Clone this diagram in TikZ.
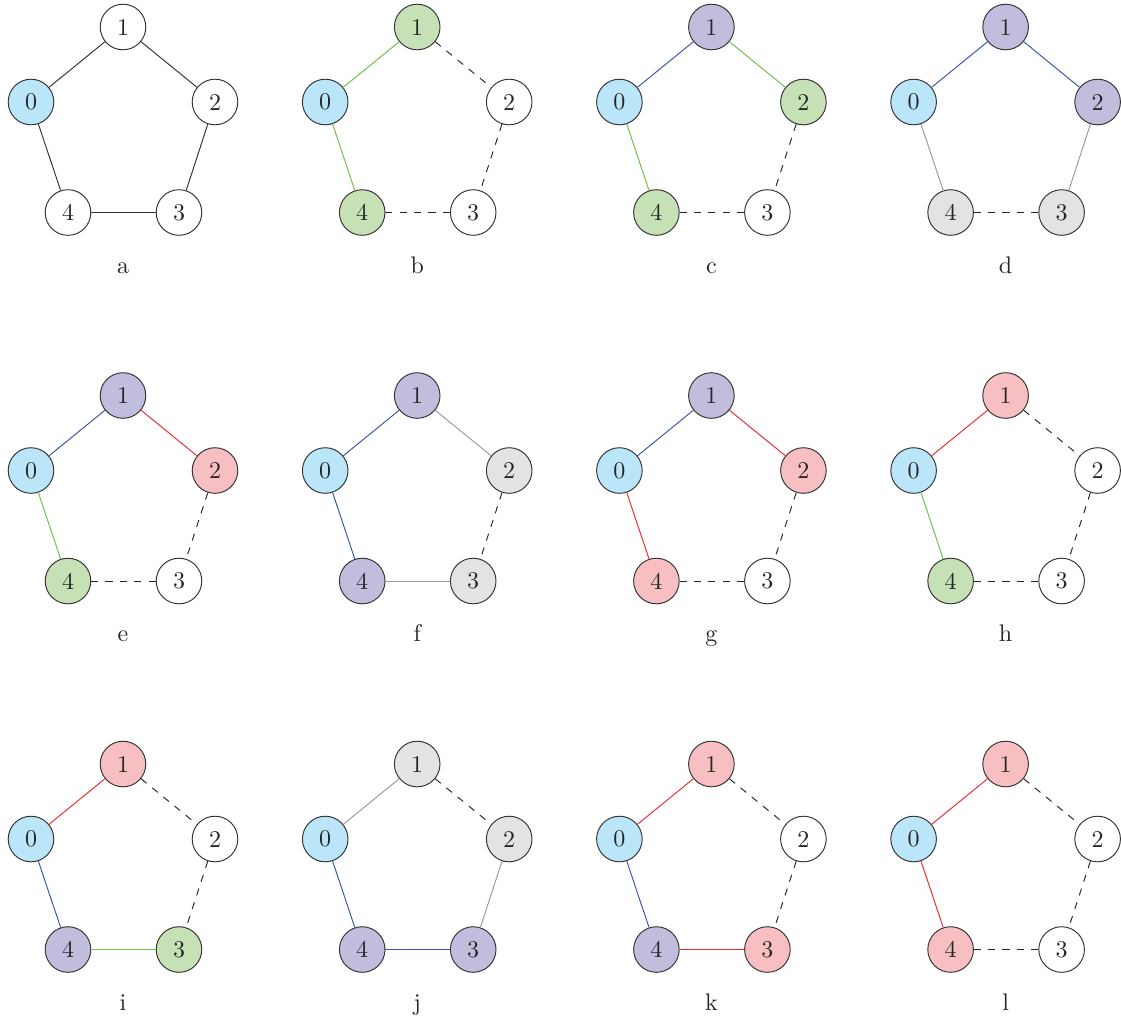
\documentclass[tikz,border=0pt]{standalone}
\definecolor{fblue}{HTML}{BBE5F8}
\definecolor{fpurple}{HTML}{C1BDDD}
\definecolor{fgreen}{HTML}{C6E1B6}
\definecolor{fred}{HTML}{F8BFC3}
\definecolor{fgray}{HTML}{E2E3E4}
\definecolor{eblue}{HTML}{3A55A8}
\definecolor{egreen}{HTML}{6CBF48}
\definecolor{ered}{HTML}{EE2A2E}
\definecolor{egray}{HTML}{9A9A9A}
\tikzset{
  vtx/.style={circle, draw=black!80, line width=0.4pt, minimum size=19pt, inner sep=0pt, text=black!85},
  fw/.style={vtx, fill=white},
  fb/.style={vtx, fill=fblue},
  fp/.style={vtx, fill=fpurple},
  fg/.style={vtx, fill=fgreen},
  fr/.style={vtx, fill=fred},
  fy/.style={vtx, fill=fgray},
  ek/.style={draw=black!80, line width=0.4pt},
  ed/.style={draw=black!85, line width=0.4pt, dashed},
  eb/.style={draw=eblue, line width=0.4pt},
  eg/.style={draw=egreen, line width=0.4pt},
  er/.style={draw=ered, line width=0.4pt},
  ey/.style={draw=egray, line width=0.4pt},
  lab/.style={anchor=base, inner sep=0pt, text=black!85}
}
\begin{document}
\begin{tikzpicture}[x=0.41667pt, y=-0.41667pt]
\useasboundingbox (0,0) rectangle (1121,1016);
\foreach \n/\cx/\ry/\fa/\fbb/\fc/\fd/\ea/\eb/\ec/\eD/\ee in {
  a/0/0/fw/fw/fw/fw/ek/ek/ek/ek/ek,
  b/1/0/fg/fw/fw/fg/eg/ed/ed/ed/eg,
  c/2/0/fp/fg/fw/fg/eb/eg/ed/ed/eg,
  d/3/0/fp/fp/fy/fy/eb/eb/ey/ed/ey,
  e/0/1/fp/fr/fw/fg/eb/er/ed/ed/eg,
  f/1/1/fp/fy/fy/fp/eb/ey/ed/ey/eb,
  g/2/1/fp/fr/fw/fr/eb/er/ed/ed/er,
  h/3/1/fr/fw/fw/fg/er/ed/ed/ed/eg,
  i/0/2/fr/fw/fg/fp/er/ed/ed/eg/eb,
  j/1/2/fy/fy/fp/fp/ey/ed/ey/eb/eb,
  k/2/2/fr/fw/fr/fp/er/ed/ed/er/eb,
  l/3/2/fr/fw/fw/fr/er/ed/ed/ed/er}{
  \begin{scope}[shift={(294.2*\cx, 368.5*\ry)}]
    \node[fb]   (\n0) at (31,102)  {0};
    \node[\fa]  (\n1) at (123,27)  {1};
    \node[\fbb] (\n2) at (215,102) {2};
    \node[\fc]  (\n3) at (179,212.5) {3};
    \node[\fd]  (\n4) at (68,212.5)  {4};
    \node[lab]  (\n L) at (123,273) {\n};
    \draw[\ea]  (\n0) -- (\n1);
    \draw[\eb]  (\n1) -- (\n2);
    \draw[\ec]  (\n2) -- (\n3);
    \draw[\eD]  (\n3) -- (\n4);
    \draw[\ee]  (\n0) -- (\n4);
  \end{scope}
}
\end{tikzpicture}
\end{document}
